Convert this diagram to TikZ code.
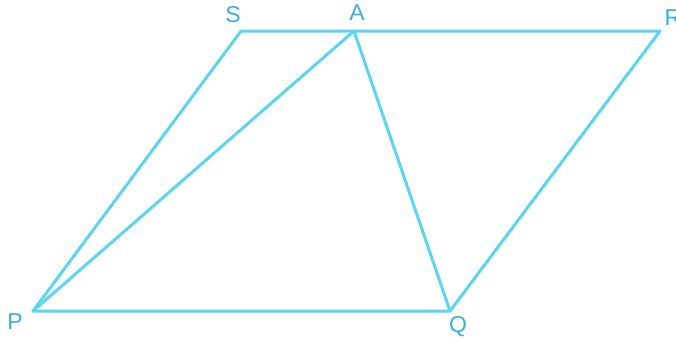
\documentclass[tikz,border=0pt]{standalone}
\usepackage{fontspec}
\setmainfont{Liberation Sans}
\usetikzlibrary{positioning}
\definecolor{pLine}{HTML}{5CD6F0}
\definecolor{pText}{HTML}{3AAEDF}

\begin{document}
\begin{tikzpicture}[x=1pt,y=-1pt,
    side/.style={pLine,line width=3pt,line join=round,line cap=round},
    vlabel/.style={pText,font=\fontsize{23}{23}\selectfont}]
  \useasboundingbox (0,0) rectangle (676,340);
  % vertices
  \coordinate (P) at (33,311);
  \coordinate (Q) at (450,311);
  \coordinate (R) at (660,31);
  \coordinate (S) at (241,31);
  \coordinate (A) at (354,31);
  % parallelogram and triangle
  \draw[side] (P) -- (Q) -- (R) -- (S) -- cycle;
  \draw[side] (P) -- (A) -- (Q);
  % labels
  \node[vlabel] (lS) at (233,15) {S};
  \node[vlabel] (lA) at (357,13) {A};
  \node[vlabel] (lR) at (673,18) {R};
  \node[vlabel] (lP) at (15,322) {P};
  \node[vlabel] (lQ) at (458,327) {Q};
\end{tikzpicture}
\end{document}
